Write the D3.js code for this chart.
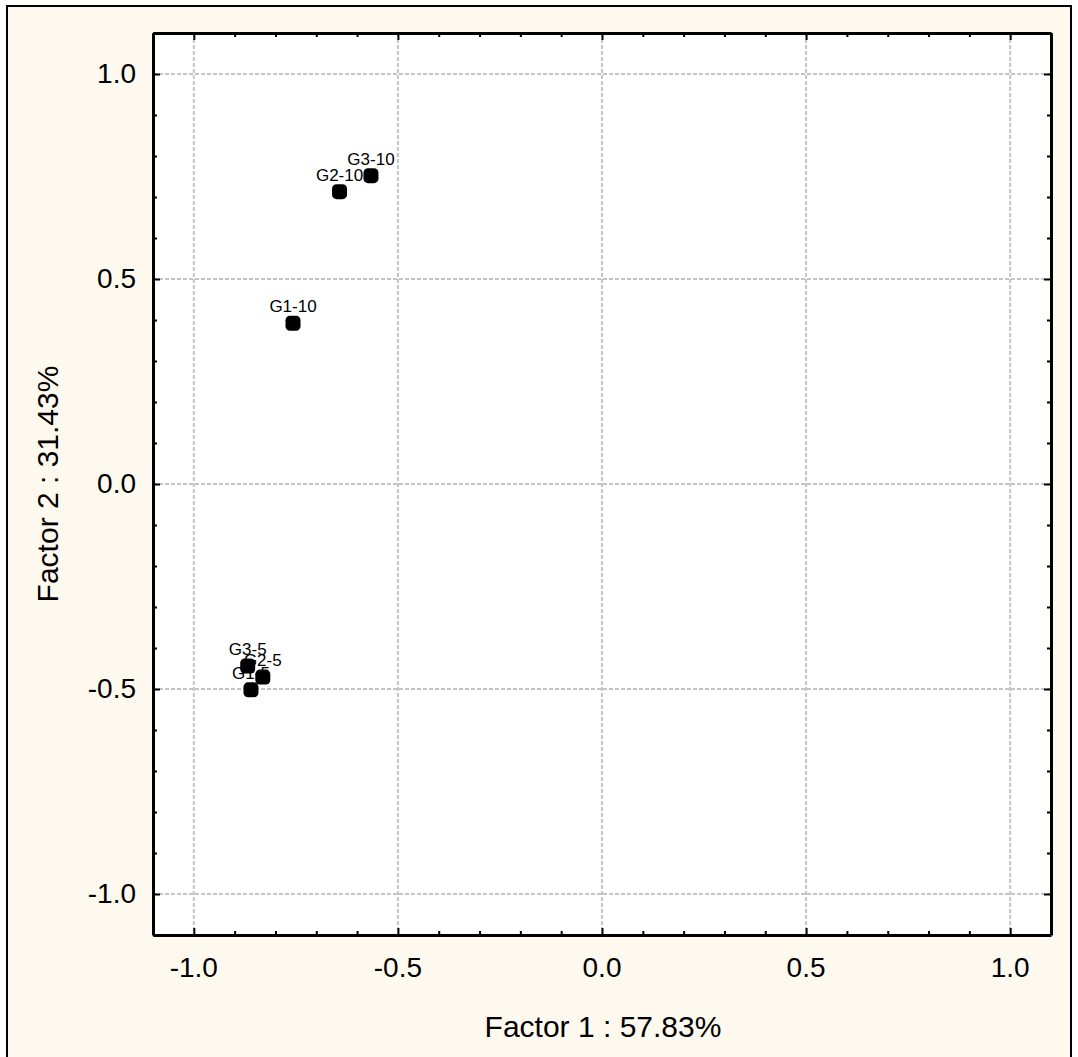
<!DOCTYPE html>
<html>
<head>
<meta charset="utf-8">
<script src="https://cdn.jsdelivr.net/npm/d3@7"></script>
<style>
  body { margin: 0; background: #fff; }
  svg { display: block; font-family: "Liberation Sans", Arial, sans-serif; }
</style>
</head>
<body>
<svg width="1078" height="1057"></svg>
<script>
  // point labels and factor scores
  var labels = ['G1-5', 'G2-5', 'G3-5', 'G1-10', 'G2-10', 'G3-10'];
  var factor1 = [-0.860, -0.831, -0.868, -0.757, -0.643, -0.566];
  var factor2 = [-0.502, -0.471, -0.444, 0.392, 0.713, 0.752];
  var tickValues = [-1.0, -0.5, 0.0, 0.5, 1.0];
  var minorTicks = d3.range(-11, 12).map(function (i) { return i / 10; });

  var svg = d3.select('svg');
  var plot = {left: 153, top: 33, right: 1051, bottom: 935};

  svg.append('rect')
    .attr('x', 7).attr('y', 6).attr('width', 1064).attr('height', 1060)
    .attr('fill', '#fef9ee').attr('stroke', '#000').attr('stroke-width', 2);

  var x = d3.scaleLinear().domain([-1.1, 1.1]).range([plot.left, plot.right]);
  var y = d3.scaleLinear().domain([-1.1, 1.1]).range([plot.bottom, plot.top]);

  svg.append('rect')
    .attr('x', plot.left).attr('y', plot.top)
    .attr('width', plot.right - plot.left).attr('height', plot.bottom - plot.top)
    .attr('fill', '#fff');

  // grid
  var grid = svg.append('g').attr('stroke', '#c4c4c4').attr('stroke-width', 2).attr('stroke-dasharray', '4,2');
  grid.selectAll('.gx').data(tickValues).enter().append('line')
    .attr('x1', function (d) { return x(d); }).attr('x2', function (d) { return x(d); })
    .attr('y1', plot.top).attr('y2', plot.bottom);
  grid.selectAll('.gy').data(tickValues).enter().append('line')
    .attr('y1', function (d) { return y(d); }).attr('y2', function (d) { return y(d); })
    .attr('x1', plot.left).attr('x2', plot.right);

  // axes: major ticks inward, minor ticks every 0.1
  function tickLen(d) { return tickValues.some(function (t) { return Math.abs(t - d) < 1e-9; }) ? -7 : -4; }

  var fmt = function (d) { return d3.format('.1f')(d).replace('\u2212', '-'); };
  var axBottom = svg.append('g').attr('transform', 'translate(0,' + plot.bottom + ')')
    .call(d3.axisBottom(x).tickValues(minorTicks).tickSize(-4).tickSizeOuter(0).tickFormat(''));
  var axTop = svg.append('g').attr('transform', 'translate(0,' + plot.top + ')')
    .call(d3.axisTop(x).tickValues(minorTicks).tickSize(-4).tickSizeOuter(0).tickFormat(''));
  var axLeft = svg.append('g').attr('transform', 'translate(' + plot.left + ',0)')
    .call(d3.axisLeft(y).tickValues(minorTicks).tickSize(-4).tickSizeOuter(0).tickFormat(''));
  var axRight = svg.append('g').attr('transform', 'translate(' + plot.right + ',0)')
    .call(d3.axisRight(y).tickValues(minorTicks).tickSize(-4).tickSizeOuter(0).tickFormat(''));

  [axBottom, axTop, axLeft, axRight].forEach(function (g) {
    g.select('.domain').attr('stroke-width', 3).attr('stroke', '#000');
    g.selectAll('.tick line').attr('stroke', '#000').attr('stroke-width', 2);
  });
  axBottom.selectAll('.tick line').attr('y2', function (d) { return tickLen(d); });
  axTop.selectAll('.tick line').attr('y2', function (d) { return -tickLen(d); });
  axLeft.selectAll('.tick line').attr('x2', function (d) { return -tickLen(d); });
  axRight.selectAll('.tick line').attr('x2', function (d) { return tickLen(d); });

  // tick labels
  svg.append('g').selectAll('text').data(tickValues).enter().append('text')
    .attr('x', function (d) { return x(d); }).attr('y', 977)
    .attr('text-anchor', 'middle').attr('font-size', 28)
    .text(function (d) { return fmt(d); });
  svg.append('g').selectAll('text').data(tickValues).enter().append('text')
    .attr('x', 136).attr('y', function (d) { return y(d) + 9; })
    .attr('text-anchor', 'end').attr('font-size', 28)
    .text(function (d) { return fmt(d); });

  // axis titles
  svg.append('text').attr('x', 603).attr('y', 1037)
    .attr('text-anchor', 'middle').attr('font-size', 30)
    .text('Factor 1 : 57.83%');
  svg.append('text').attr('transform', 'translate(58,' + y(0) + ') rotate(-90)')
    .attr('text-anchor', 'middle').attr('font-size', 30)
    .text('Factor 2 : 31.43%');

  // points
  var data = labels.map(function (l, i) { return {label: l, f1: factor1[i], f2: factor2[i]}; });
  var pts = svg.append('g');
  pts.selectAll('text').data(data).enter().append('text')
    .attr('x', function (d) { return x(d.f1); })
    .attr('y', function (d) { return y(d.f2) - 11; })
    .attr('text-anchor', 'middle').attr('font-size', 17)
    .text(function (d) { return d.label; });
  pts.selectAll('rect').data(data).enter().append('rect')
    .attr('x', function (d) { return x(d.f1) - 7.5; })
    .attr('y', function (d) { return y(d.f2) - 7.5; })
    .attr('width', 15).attr('height', 15).attr('rx', 4.5)
    .attr('fill', '#000');
</script>
</body>
</html>
